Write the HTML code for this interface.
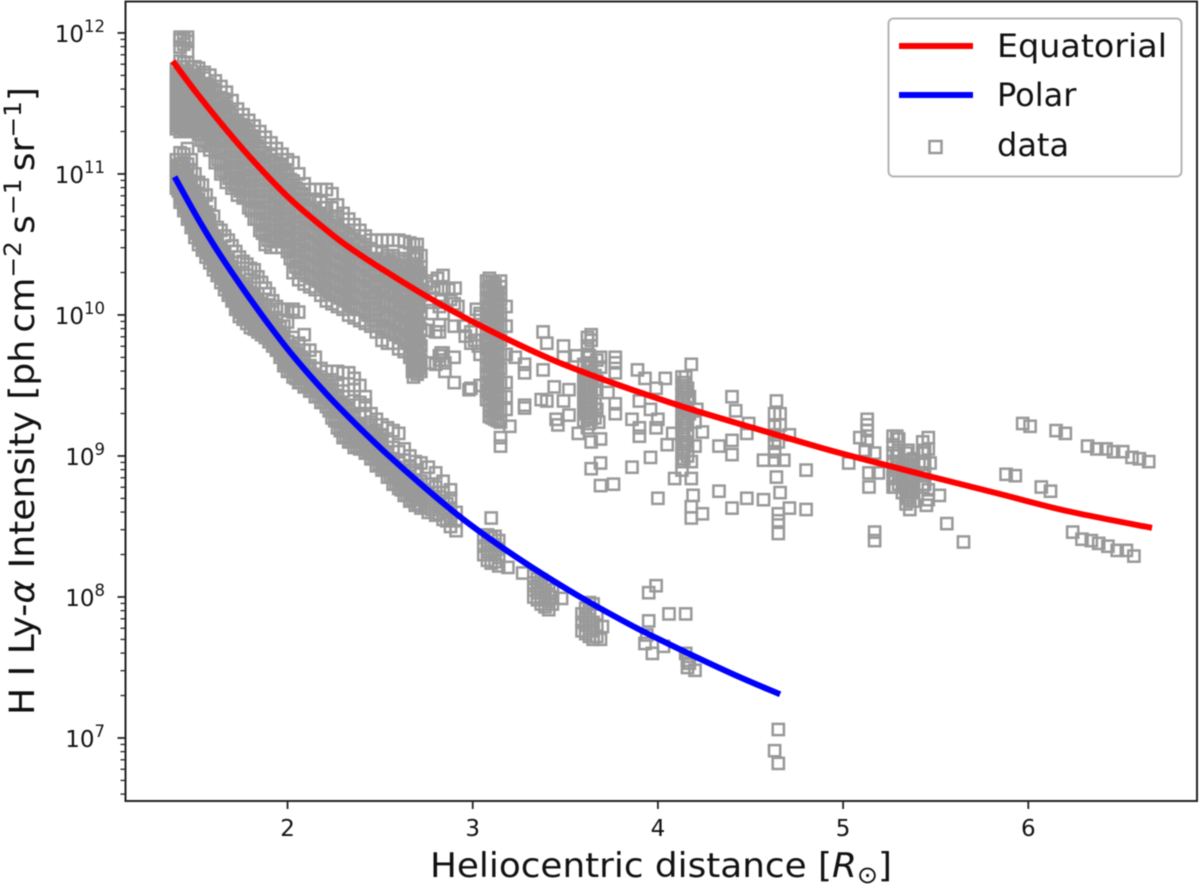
<!DOCTYPE html>
<html lang="en">
<head>
<meta charset="utf-8">
<title>H I Ly-alpha intensity versus heliocentric distance</title>
<style>
html,body{margin:0;padding:0;background:#fff;width:1200px;height:884px;overflow:hidden}
svg{display:block;font-family:"DejaVu Sans","Liberation Sans",sans-serif;filter:blur(0.4px)}
</style>
</head>
<body>
<svg id="chart" xmlns="http://www.w3.org/2000/svg" width="1200" height="884" viewBox="0 0 1200 884">
<rect x="125.5" y="1.5" width="1071.5" height="799.5" fill="#fff"/>
<g id="points"></g>
<path id="equatorial-line" fill="none" stroke="#ff0000" stroke-width="6"/>
<path id="polar-line" fill="none" stroke="#0000ff" stroke-width="6"/>
<g id="ticks"></g>
<rect x="125.5" y="1.5" width="1071.5" height="799.5" fill="none" stroke="#222" stroke-width="2"/>
<text x="661" y="877" text-anchor="middle" font-size="34" fill="#111" textLength="462" lengthAdjust="spacingAndGlyphs">Heliocentric distance [<tspan font-style="italic">R</tspan><tspan dy="6" font-size="24">⊙</tspan><tspan dy="-6">]</tspan></text>
<text transform="translate(34,401) rotate(-90)" text-anchor="middle" font-size="35" fill="#111" textLength="628" lengthAdjust="spacingAndGlyphs">H I Ly-<tspan font-style="italic">α</tspan> Intensity [ph&#8201;cm<tspan dy="-13" font-size="24">−2</tspan><tspan dy="13">&#8201;s</tspan><tspan dy="-13" font-size="24">−1</tspan><tspan dy="13">&#8201;sr</tspan><tspan dy="-13" font-size="24">−1</tspan><tspan dy="13">]</tspan></text>
<g>
<rect x="888.5" y="18.5" width="293" height="158" rx="5" fill="#fff" stroke="#b4b4b4" stroke-width="2"/>
<line x1="899" y1="46" x2="973" y2="46" stroke="#ff0000" stroke-width="6"/>
<text x="997" y="57" font-size="32" fill="#111" textLength="170" lengthAdjust="spacingAndGlyphs">Equatorial</text>
<line x1="899" y1="95" x2="973" y2="95" stroke="#0000ff" stroke-width="6"/>
<text x="997" y="106" font-size="32" fill="#111">Polar</text>
<rect x="929.5" y="141" width="12" height="12" fill="none" stroke="#999" stroke-width="2.5"/>
<text x="997" y="156" font-size="32" fill="#111">data</text>
</g>
</svg>
<script>
const xTickValues = [2, 3, 4, 5, 6];
const yTickExponents = [7, 8, 9, 10, 11, 12];
const minorMultipliers = [2, 3, 4, 5, 6, 7, 8, 9];

const equatorialDistance = [1.38, 1.50, 1.64, 1.81, 2.0, 2.175, 2.354, 2.715, 3.077, 3.434, 3.795, 4.157, 4.513, 4.875, 5.13, 5.485, 5.847, 6.209, 6.668];
const equatorialLogI = [11.80, 11.59, 11.36, 11.10, 10.84, 10.64, 10.46, 10.16, 9.90, 9.68, 9.50, 9.34, 9.20, 9.06, 8.97, 8.85, 8.73, 8.61, 8.49];
const polarDistance = [1.39, 1.50, 1.60, 1.70, 1.80, 1.90, 2.03, 2.21, 2.35, 2.54, 2.72, 2.93, 3.16, 3.38, 3.62, 3.87, 4.10, 4.41, 4.66];
const polarLogI = [10.98, 10.72, 10.50, 10.30, 10.11, 9.93, 9.71, 9.44, 9.25, 9.01, 8.80, 8.57, 8.35, 8.16, 7.97, 7.79, 7.64, 7.45, 7.31];

const polarBandDistance = [1.40,1.42,1.44,1.46,1.48,1.50,1.52,1.54,1.56,1.58,1.60,1.62,1.64,1.66,1.68,1.70,1.72,1.74,1.76,1.78,1.80,1.82,1.84,1.86,1.88,1.90,1.92,1.94,1.96,1.98,2.00,2.03,2.06,2.09,2.12,2.15,2.18,2.21,2.24,2.27,2.30,2.33,2.36,2.39,2.42,2.45,2.48,2.51,2.54,2.57,2.60,2.63,2.66,2.69,2.72,2.76,2.80,2.84,2.88,2.91];
const polarBandLogI = [
[10.90,10.95,11.00,11.05,11.10],
[10.80,10.85,10.92,10.97,11.03,11.10,11.15],
[10.74,10.79,10.85,10.90,10.96,11.02,11.08,11.14],
[10.68,10.74,10.80,10.86,10.92,11.00,11.07,11.18],
[10.62,10.68,10.73,10.80,10.86,10.93,11.03,11.10],
[10.55,10.60,10.66,10.72,10.78,10.84,10.92,11.00],
[10.50,10.56,10.62,10.68,10.75,10.82,10.94],
[10.46,10.52,10.58,10.64,10.70,10.76,10.85,10.92],
[10.41,10.47,10.53,10.60,10.66,10.73,10.85],
[10.37,10.43,10.49,10.55,10.61,10.67,10.79],
[10.32,10.38,10.44,10.50,10.56,10.70],
[10.28,10.34,10.40,10.46,10.52,10.62],
[10.23,10.29,10.35,10.41,10.48,10.60],
[10.18,10.24,10.30,10.36,10.43,10.56],
[10.14,10.20,10.26,10.32,10.38,10.53],
[10.10,10.16,10.22,10.28,10.34,10.49],
[10.04,10.10,10.16,10.22,10.30,10.45],
[9.99,10.05,10.11,10.17,10.24,10.41],
[9.97,10.03,10.09,10.15,10.22,10.38],
[9.94,10.00,10.06,10.12,10.20,10.36],
[9.91,9.97,10.03,10.09,10.16,10.33],
[9.90,9.95,10.00,10.06,10.13,10.22,10.32],
[9.88,9.93,9.98,10.04,10.10,10.27],
[9.86,9.91,9.96,10.02,10.08,10.23],
[9.84,9.89,9.94,10.00,10.06,10.19],
[9.81,9.86,9.92,9.98,10.04,10.15],
[9.78,9.84,9.90,9.96,10.10],
[9.75,9.81,9.87,9.93,10.06],
[9.70,9.77,9.84,9.91,10.04],
[9.64,9.71,9.78,9.85,9.92,10.04],
[9.60,9.67,9.74,9.81,9.95,10.04],
[9.56,9.62,9.69,9.76,9.84,10.02,10.04],
[9.52,9.58,9.64,9.71,9.80,10.02],
[9.49,9.55,9.61,9.68,9.75,9.86],
[9.46,9.52,9.58,9.64,9.75],
[9.42,9.48,9.54,9.62,9.70],
[9.38,9.44,9.50,9.56,9.62],
[9.35,9.41,9.47,9.53,9.60],
[9.27,9.33,9.40,9.47,9.54,9.60],
[9.20,9.27,9.34,9.42,9.50,9.60],
[9.13,9.20,9.28,9.36,9.46,9.59],
[9.10,9.17,9.24,9.32,9.42,9.59],
[9.06,9.12,9.19,9.27,9.36,9.47,9.55],
[9.05,9.10,9.16,9.23,9.30,9.38,9.50],
[9.02,9.08,9.14,9.20,9.28,9.36,9.42],
[8.98,9.04,9.10,9.17,9.24,9.30],
[8.93,8.99,9.05,9.11,9.18,9.26],
[8.90,8.96,9.02,9.08,9.15,9.22],
[8.85,8.91,8.97,9.03,9.10,9.20],
[8.80,8.86,8.92,8.98,9.06,9.18],
[8.77,8.83,8.89,8.95,9.03,9.16],
[8.72,8.78,8.84,8.90,8.97,9.05],
[8.68,8.74,8.80,8.86,8.93,9.00],
[8.65,8.71,8.77,8.83,8.90,8.96],
[8.63,8.69,8.75,8.82,8.95],
[8.60,8.66,8.73,8.80,8.92],
[8.58,8.64,8.70,8.78,8.88],
[8.55,8.61,8.68,8.74,8.82],
[8.50,8.56,8.63,8.70,8.76],
[8.47,8.54,8.60]
];

const polarFillDistance = [1.41,1.43,1.45,1.47,1.49,1.51,1.53,1.55,1.57,1.59,1.61,1.63,1.65,1.67,1.69,1.71,1.73,1.75,1.77,1.79,1.81,1.83,1.85,1.87,1.89,1.91,1.93,1.95,1.97,1.99,2.015,2.045,2.075,2.105,2.135,2.165,2.195,2.225,2.255,2.285,2.315,2.345,2.375,2.405,2.435,2.465,2.495,2.525,2.555,2.585,2.615,2.645,2.675,2.705,2.74,2.78,2.82,2.86];
const polarFillLogI = [
[10.88,10.94,11.00,11.06],
[10.82,10.88,10.94,11.00,11.06],
[10.76,10.82,10.88,10.94,11.00],
[10.70,10.76,10.82,10.88,10.94],
[10.64,10.70,10.76,10.82,10.88],
[10.58,10.64,10.70,10.76,10.82],
[10.53,10.59,10.65,10.71,10.77],
[10.48,10.54,10.60,10.66,10.72],
[10.44,10.50,10.56,10.62,10.68],
[10.40,10.46,10.52,10.58],
[10.35,10.41,10.47,10.53],
[10.30,10.36,10.42,10.48],
[10.26,10.32,10.38,10.44],
[10.21,10.27,10.33,10.39],
[10.16,10.22,10.28,10.34],
[10.11,10.17,10.23,10.29],
[10.06,10.12,10.18,10.24],
[10.02,10.08,10.14,10.20],
[10.00,10.06,10.12,10.18],
[9.97,10.03,10.09,10.15],
[9.95,10.01,10.07,10.13],
[9.92,9.98,10.04,10.10],
[9.90,9.96,10.02],
[9.88,9.94,10.00],
[9.86,9.92,9.98],
[9.83,9.89,9.95],
[9.80,9.86,9.92],
[9.76,9.82,9.88],
[9.72,9.78,9.84],
[9.66,9.72,9.78],
[9.60,9.66,9.72,9.78],
[9.55,9.61,9.67,9.73],
[9.52,9.58,9.64,9.70],
[9.50,9.56,9.62],
[9.46,9.52,9.58],
[9.42,9.48,9.54],
[9.38,9.44,9.50],
[9.32,9.38,9.44,9.50],
[9.25,9.31,9.37,9.43],
[9.18,9.24,9.31,9.38],
[9.14,9.20,9.27,9.34],
[9.10,9.16,9.22,9.29],
[9.07,9.13,9.19],
[9.06,9.12,9.18],
[9.03,9.09,9.15,9.22],
[8.98,9.04,9.10,9.16],
[8.94,9.00,9.06,9.12],
[8.90,8.96,9.02],
[8.85,8.91,8.97],
[8.80,8.86,8.92],
[8.76,8.82,8.88],
[8.72,8.78,8.84],
[8.69,8.75,8.81],
[8.66,8.72,8.78],
[8.64,8.70,8.76],
[8.62,8.68,8.74],
[8.59,8.65,8.71],
[8.54,8.60,8.66]
];

const polarClusterDistance = [3.06,3.08,3.10,3.12,3.14,3.19,3.27,3.33,3.35,3.37,3.39,3.41,3.43,3.48,3.59,3.61,3.63,3.65,3.67,3.69,3.70,3.93,3.94,3.95,3.97,3.99,4.03,4.06,4.15,4.16,4.17,4.20,4.63,4.65];
const polarClusterLogI = [
[8.30,8.36,8.42],
[8.26,8.32,8.38,8.44],
[8.24,8.30,8.36,8.42,8.56],
[8.25,8.31,8.37,8.43],
[8.22,8.28,8.34,8.40],
[8.21],
[8.17],
[8.00,8.05,8.10,8.15],
[7.98,8.03,8.08,8.13],
[7.95,8.00,8.06,8.12],
[7.93,7.99,8.04,8.10],
[7.91,7.97,8.02,8.08],
[7.95,8.00,8.05],
[7.99],
[7.76,7.82,7.88],
[7.74,7.80,7.86,7.92],
[7.72,7.78,7.84,7.90,7.96],
[7.70,7.76,7.82,7.95],
[7.72,7.80,7.88],
[7.70],
[7.79],
[7.67],
[7.73],
[7.83,8.03],
[7.60],
[8.08],
[7.65],
[7.88],
[7.60,7.88],
[7.50,7.55],
[7.53],
[7.48],
[6.91],
[6.82,7.06]
];

const equatorialBandDistance = [1.40,1.42,1.44,1.46,1.48,1.50,1.52,1.55,1.58,1.61,1.64,1.67,1.70,1.73,1.76,1.79,1.82,1.85,1.88,1.91,1.94,1.97,2.00,2.03,2.06,2.09,2.12,2.15,2.18,2.21,2.24,2.27,2.30,2.33,2.36,2.39,2.42,2.45,2.48,2.51,2.54,2.57,2.60,2.63,2.66,2.68,2.70,2.72];
const equatorialBandLogI = [
[11.32,11.38,11.44,11.50,11.56,11.62,11.68,11.74],
[11.30,11.36,11.42,11.48,11.54,11.60,11.66,11.72,11.80,11.90,11.95,11.97],
[11.31,11.37,11.43,11.49,11.55,11.61,11.67,11.73,11.79,11.92,11.96],
[11.31,11.40,11.46,11.52,11.58,11.64,11.70,11.79,11.87,11.94,11.97],
[11.30,11.34,11.42,11.48,11.55,11.62,11.68,11.73],
[11.33,11.38,11.45,11.52,11.58,11.64,11.70,11.76],
[11.28,11.34,11.40,11.46,11.52,11.58,11.64,11.70,11.75],
[11.20,11.28,11.35,11.42,11.48,11.55,11.62,11.68,11.72],
[11.17,11.24,11.31,11.38,11.44,11.50,11.56,11.62,11.70],
[11.08,11.16,11.24,11.31,11.38,11.45,11.52,11.59,11.66],
[11.00,11.07,11.15,11.23,11.30,11.37,11.44,11.50,11.62],
[10.94,11.02,11.10,11.18,11.26,11.33,11.40,11.48,11.58],
[10.90,10.97,11.05,11.12,11.20,11.27,11.34,11.42,11.52],
[10.85,10.93,11.00,11.08,11.16,11.23,11.31,11.38,11.46],
[10.83,10.90,10.97,11.05,11.12,11.20,11.28,11.35,11.42],
[10.76,10.84,10.92,10.99,11.06,11.14,11.22,11.30,11.38],
[10.68,10.76,10.84,10.91,10.99,11.07,11.15,11.24,11.34],
[10.60,10.68,10.76,10.84,10.92,11.00,11.08,11.18,11.30],
[10.50,10.57,10.65,10.73,10.81,10.89,10.97,11.05,11.15,11.26],
[10.48,10.56,10.64,10.72,10.80,10.88,10.96,11.05,11.13,11.22],
[10.48,10.55,10.63,10.71,10.78,10.86,10.94,11.02,11.10,11.18],
[10.48,10.54,10.61,10.69,10.77,10.85,10.93,11.00,11.07,11.14],
[10.45,10.52,10.60,10.68,10.76,10.84,10.92,11.00,11.10],
[10.30,10.38,10.46,10.54,10.62,10.70,10.78,10.86,10.95,11.08],
[10.25,10.33,10.41,10.49,10.57,10.65,10.73,10.81,10.89,11.00],
[10.22,10.30,10.38,10.46,10.54,10.62,10.70,10.78,10.85,10.93],
[10.20,10.28,10.36,10.44,10.52,10.60,10.68,10.76,10.89],
[10.18,10.26,10.34,10.42,10.50,10.58,10.66,10.74,10.82,10.89],
[10.14,10.22,10.30,10.38,10.46,10.54,10.62,10.70,10.80,10.89],
[10.10,10.18,10.26,10.34,10.42,10.50,10.58,10.66,10.76,10.89],
[10.08,10.16,10.24,10.32,10.40,10.48,10.56,10.66,10.76,10.86],
[10.06,10.14,10.22,10.30,10.38,10.46,10.54,10.62,10.70,10.78],
[10.04,10.12,10.20,10.28,10.36,10.44,10.52,10.60,10.72],
[10.00,10.08,10.16,10.24,10.32,10.40,10.48,10.56,10.68],
[9.98,10.06,10.14,10.22,10.30,10.38,10.46,10.54,10.64],
[9.96,10.04,10.12,10.20,10.28,10.36,10.44,10.52,10.60],
[9.94,10.02,10.10,10.18,10.26,10.34,10.42,10.50,10.56],
[9.92,10.00,10.08,10.16,10.24,10.32,10.40,10.47,10.53],
[9.88,9.96,10.04,10.13,10.22,10.30,10.38,10.45,10.53],
[9.82,9.90,10.00,10.10,10.20,10.28,10.36,10.44,10.53],
[9.80,9.88,9.98,10.08,10.16,10.26,10.34,10.42,10.53],
[9.80,9.88,9.96,10.06,10.14,10.22,10.32,10.42,10.53],
[9.76,9.84,9.92,10.02,10.10,10.20,10.30,10.40,10.53],
[9.74,9.82,9.90,10.00,10.08,10.18,10.28,10.38,10.52],
[9.70,9.80,9.90,10.00,10.10,10.20,10.30,10.40,10.51],
[9.56,9.62,9.68,9.74,9.80,9.86,9.92,9.98,10.04,10.10,10.16,10.24,10.32,10.42,10.50],
[9.58,9.64,9.70,9.76,9.82,9.88,9.94,10.00,10.06,10.12,10.18,10.26,10.34,10.44,10.50],
[9.60,9.68,9.78,9.90,10.02,10.14,10.26,10.34,10.42]
];

const equatorialFillDistance = [1.41,1.43,1.45,1.47,1.49,1.51,1.535,1.565,1.595,1.625,1.655,1.685,1.715,1.745,1.775,1.805,1.835,1.865,1.895,1.925,1.955,1.985,2.015,2.045,2.075,2.105,2.135,2.165,2.195,2.225,2.255,2.285,2.315,2.345,2.375,2.405,2.435,2.465,2.495,2.525,2.555,2.585,2.615,2.645,2.675,2.69,2.71];
const equatorialFillLogI = [
[11.34,11.41,11.47,11.53,11.59,11.65,11.71],
[11.33,11.40,11.46,11.52,11.58,11.64,11.70,11.76],
[11.35,11.41,11.47,11.53,11.59,11.65,11.71],
[11.33,11.39,11.45,11.51,11.57,11.63,11.69],
[11.36,11.41,11.48,11.55,11.61,11.67],
[11.31,11.37,11.43,11.49,11.55,11.61,11.67],
[11.24,11.31,11.38,11.44,11.50,11.56,11.63],
[11.22,11.30,11.37,11.44,11.51,11.58,11.64],
[11.20,11.27,11.34,11.41,11.47,11.53,11.60],
[11.10,11.18,11.26,11.33,11.40,11.47,11.54],
[11.02,11.10,11.18,11.25,11.32,11.40,11.47,11.53],
[10.97,11.04,11.12,11.20,11.28,11.35,11.43],
[10.92,11.00,11.08,11.16,11.23,11.30,11.37],
[10.88,10.96,11.03,11.10,11.18,11.26,11.33],
[10.83,10.90,10.97,11.03,11.10,11.18,11.25,11.32],
[10.74,10.81,10.88,10.95,11.03,11.11,11.19,11.27],
[10.68,10.74,10.80,10.88,10.96,11.04,11.12,11.20],
[10.58,10.64,10.72,10.80,10.88,10.96,11.04,11.12],
[10.53,10.60,10.68,10.76,10.84,10.92,11.00,11.09],
[10.52,10.60,10.68,10.76,10.84,10.92,11.00,11.08],
[10.58,10.66,10.74,10.82,10.90,10.98,11.06],
[10.56,10.64,10.72,10.80,10.88,10.96,11.03],
[10.40,10.48,10.56,10.64,10.72,10.80,10.88,10.96],
[10.34,10.42,10.50,10.58,10.66,10.74,10.82,10.90],
[10.30,10.38,10.46,10.54,10.62,10.70,10.78,10.86],
[10.28,10.36,10.44,10.52,10.60,10.68,10.76,10.82],
[10.26,10.34,10.42,10.50,10.58,10.66,10.74],
[10.24,10.32,10.40,10.48,10.56,10.64,10.72],
[10.20,10.28,10.36,10.44,10.52,10.60,10.68,10.76],
[10.16,10.24,10.32,10.40,10.48,10.56,10.64],
[10.14,10.22,10.30,10.38,10.46,10.54,10.62,10.70],
[10.12,10.20,10.28,10.36,10.44,10.52,10.60],
[10.10,10.18,10.26,10.34,10.42,10.50,10.58],
[10.06,10.14,10.22,10.30,10.38,10.46,10.54],
[10.04,10.12,10.20,10.28,10.36,10.44,10.50],
[10.04,10.12,10.20,10.28,10.36,10.44],
[10.00,10.08,10.16,10.24,10.32,10.40],
[9.96,10.04,10.12,10.20,10.28,10.36],
[9.92,10.00,10.08,10.16,10.24,10.32],
[9.90,10.00,10.10,10.20,10.30,10.40],
[9.88,9.98,10.08,10.18,10.28,10.38],
[9.86,9.96,10.06,10.16,10.26,10.36],
[9.84,9.94,10.04,10.14,10.24,10.34],
[9.80,9.90,10.00,10.10,10.20,10.30],
[9.60,9.66,9.72,9.78,9.84,9.90,9.96,10.02,10.08,10.14,10.20,10.28,10.36],
[9.60,9.70,9.80,9.90,10.00,10.10,10.20,10.30,10.40],
[9.62,9.72,9.82,9.94,10.06,10.18,10.30]
];

const solarColumnDistance = [2.78,2.80,2.82,2.83,2.84,2.85,2.90,2.905,2.92,2.96,2.99,3.04,3.09,3.12,3.15,3.18,3.20,3.23,3.28,3.37,3.38,3.40,3.44,3.45,3.46,3.49,3.52,3.56,3.57,3.61,3.62,3.64,3.67,3.68,3.69,3.73,3.76,3.77,3.86,3.89,3.90,3.93,3.96,3.99,4.00,4.04,4.05,4.08,4.09,4.13,4.15,4.17,4.18,4.19,4.20,4.21,4.24,4.33,4.40,4.42,4.48,4.49,4.57,4.63,4.64,4.65,4.66,4.68,4.71,4.80,5.03,5.09,5.12,5.13,5.14,5.17,5.19,5.27,5.28,5.29,5.32,5.35,5.36,5.37,5.43,5.45,5.46,5.47,5.52,5.56,5.65,5.88,5.93,5.97,6.01,6.07,6.12,6.15,6.20,6.24,6.29,6.32,6.34,6.37,6.38,6.42,6.43,6.46,6.48,6.51,6.53,6.56,6.57,6.60,6.65];
const solarColumnLogI = [
[10.24,10.01],
[9.65,9.88],
[9.68,9.88],
[9.73,10.19,10.10],
[10.01,9.73,10.28],
[9.60],
[9.52,9.70,9.92,10.08],
[10.19],
[10.06],
[9.85],
[9.48,9.80],
[9.50,9.72,10.01],
[9.28,9.32,9.36,9.40,9.44,9.48,9.52,9.56,9.60,9.64,9.68,9.72,9.76,9.80,9.84,9.88,9.92,9.96,10.00,10.04,10.08,10.12,10.16,10.20,10.26],
[9.26,9.30,9.34,9.38,9.42,9.46,9.50,9.54,9.58,9.62,9.66,9.70,9.74,9.78,9.82,9.86,9.90,9.94,9.98,10.02,10.06,10.10,10.14,10.18,10.22],
[9.07,9.13,9.24,9.33,9.42,9.52,9.62,9.72,9.82,9.92,10.01,10.11,10.15,10.20,10.24],
[9.33,9.42,9.52,9.72,10.06,9.92],
[9.21],
[9.70],
[9.34,9.36,9.59,9.65],
[9.40],
[9.61,9.88],
[9.39,9.80],
[9.49],
[9.26],
[9.22],
[9.39,9.70,9.78],
[9.29,9.47],
[9.71],
[9.16],
[9.30,9.38,9.46,9.54],
[9.20,9.28,9.36,9.44,9.52,9.60,9.66,9.72,9.78,9.84],
[8.91,9.10,9.26,9.34,9.42,9.50,9.58,9.66,9.82,9.86],
[9.33,9.53,9.68],
[9.24],
[8.79,8.95,9.12,9.63,9.70],
[9.45],
[8.80],
[9.30,9.37,9.59,9.66,9.70],
[8.92,9.26],
[9.61],
[9.14,9.20,9.39],
[9.55],
[8.99,9.33],
[9.20,9.48],
[8.70,9.26],
[9.55],
[9.08],
[9.16],
[8.84],
[8.90,8.96,9.02,9.08,9.14,9.20,9.26,9.32,9.38,9.44,9.50,9.56],
[9.10,9.22,9.34,9.46,9.56],
[9.30,9.42],
[8.56,8.64,8.84,8.96,9.65],
[8.72],
[9.07,9.24],
[9.33],
[8.59,9.17],
[8.75,9.07],
[8.63,9.01,9.11,9.42],
[9.32],
[8.70,9.16],
[9.23],
[8.69,8.97],
[8.97,9.03,9.09,9.15,9.21,9.30],
[8.85,9.39],
[8.45,8.54,8.59,9.10],
[8.74,9.22,9.30],
[8.97],
[8.63,9.15],
[8.62,8.90],
[8.95],
[9.13],
[9.04],
[9.11,9.18,9.22,9.26],
[8.78,8.88],
[8.40,8.46,9.02],
[8.88],
[8.78,8.84,8.90,8.96,9.02,9.08,9.14],
[8.78,8.86],
[8.92,9.00,9.14],
[8.74,8.80,8.86,8.92],
[8.70,8.78,8.86,8.94,9.04],
[8.62,8.68,8.74,8.82,8.90,8.97],
[8.75,8.84,8.93],
[8.78,8.86,8.94,9.02,9.10],
[8.65],
[8.69,8.76,9.05,9.13],
[8.95],
[8.72],
[8.52],
[8.39],
[8.87],
[8.86],
[9.23],
[9.21],
[8.78],
[8.75],
[9.18],
[9.16],
[8.46],
[8.41],
[9.07],
[8.40],
[9.05],
[8.38],
[9.05],
[8.36],
[9.03],
[8.33],
[9.03],
[8.33],
[8.99],
[8.29],
[8.98],
[8.96]
];

const columnFillDistance = [2.75,2.77,2.79,2.81,2.82,2.85,2.87,2.88,2.95,2.98,2.99,3.01,3.02,3.03,3.04,3.075,3.105,3.135,3.60,3.63,3.66,4.14,4.16,5.30,5.34,5.38,5.44];
const columnFillLogI = [
[9.89,10.22],
[9.66,10.11],
[10.20],
[10.26],
[9.71,9.93,10.06],
[9.66],
[10.18],
[10.11],
[9.92],
[9.47],
[9.88],
[9.82],
[10.04],
[9.78],
[9.99],
[9.40,9.46,9.52,9.58,9.64,9.70,9.76,9.82,9.88,9.94,10.00,10.06,10.12,10.18,10.24],
[9.27,9.33,9.39,9.45,9.51,9.57,9.63,9.69,9.75,9.81,9.87,9.93,9.99,10.05,10.11,10.17,10.23],
[9.25,9.31,9.37,9.43,9.49,9.55,9.61,9.67,9.73,9.79,9.85,9.91,9.97,10.03,10.09,10.15],
[9.25,9.33,9.41,9.49,9.57,9.65],
[9.23,9.31,9.39,9.47,9.55,9.63,9.71],
[9.27,9.37,9.47,9.57],
[8.98,9.04,9.10,9.16,9.22,9.28,9.34,9.40,9.46,9.52],
[9.00,9.08,9.16,9.24,9.32,9.40,9.48],
[8.80,8.88,8.96,9.04,9.12],
[8.66,8.72,8.78,8.84,8.90,8.96,9.02],
[8.68,8.74,8.80,8.86,8.92,8.98],
[8.80,8.88,8.96,9.04]
];

const xMin = 1.125, xMax = 6.911, yMin = 6.553, yMax = 12.223;
const plotLeft = 125.5, plotRight = 1197, plotTop = 1.5, plotBottom = 801;
const NS = 'http://www.w3.org/2000/svg';

function xScale(d) {
  return plotLeft + (d - xMin) / (xMax - xMin) * (plotRight - plotLeft);
}
function yScale(logI) {
  return plotTop + (yMax - logI) / (yMax - yMin) * (plotBottom - plotTop);
}
function curvePath(xs, ys) {
  const px = xs.map(xScale);
  const py = ys.map(yScale);
  let d = 'M' + px[0].toFixed(1) + ' ' + py[0].toFixed(1);
  for (let i = 0; i < px.length - 1; i++) {
    const a = Math.max(i - 1, 0), b = Math.min(i + 2, px.length - 1);
    const c1x = px[i] + (px[i + 1] - px[a]) / 6, c1y = py[i] + (py[i + 1] - py[a]) / 6;
    const c2x = px[i + 1] - (px[b] - px[i]) / 6, c2y = py[i + 1] - (py[b] - py[i]) / 6;
    d += 'C' + c1x.toFixed(1) + ' ' + c1y.toFixed(1) + ' ' + c2x.toFixed(1) + ' ' + c2y.toFixed(1) + ' ' + px[i + 1].toFixed(1) + ' ' + py[i + 1].toFixed(1);
  }
  return d;
}

const pointsGroup = document.getElementById('points');
function drawColumns(distances, logLists) {
  distances.forEach(function (d, i) {
    logLists[i].forEach(function (v) {
      const r = document.createElementNS(NS, 'rect');
      r.setAttribute('x', (xScale(d) - 5.6).toFixed(1));
      r.setAttribute('y', (yScale(v) - 5.6).toFixed(1));
      r.setAttribute('width', 11.2);
      r.setAttribute('height', 11.2);
      r.setAttribute('fill', 'none');
      r.setAttribute('stroke', '#999');
      r.setAttribute('stroke-width', 2.5);
      
      
      pointsGroup.appendChild(r);
    });
  });
}
drawColumns(polarBandDistance, polarBandLogI);
drawColumns(polarFillDistance, polarFillLogI);
drawColumns(polarClusterDistance, polarClusterLogI);
drawColumns(equatorialBandDistance, equatorialBandLogI);
drawColumns(equatorialFillDistance, equatorialFillLogI);
drawColumns(solarColumnDistance, solarColumnLogI);
drawColumns(columnFillDistance, columnFillLogI);

document.getElementById('equatorial-line').setAttribute('d', curvePath(equatorialDistance, equatorialLogI));
document.getElementById('polar-line').setAttribute('d', curvePath(polarDistance, polarLogI));

const ticksGroup = document.getElementById('ticks');
function addLine(x1, y1, x2, y2, w, name) {
  const l = document.createElementNS(NS, 'line');
  l.setAttribute('x1', x1);
  l.setAttribute('y1', y1);
  l.setAttribute('x2', x2);
  l.setAttribute('y2', y2);
  l.setAttribute('stroke', '#222');
  l.setAttribute('stroke-width', w);
  
  
  ticksGroup.appendChild(l);
}
xTickValues.forEach(function (v) {
  const x = xScale(v);
  addLine(x, plotBottom, x, plotBottom + 8, 1.8, 'x-tick');
  const t = document.createElementNS(NS, 'text');
  t.setAttribute('x', x);
  t.setAttribute('y', 836);
  t.setAttribute('text-anchor', 'middle');
  t.setAttribute('font-size', 23);
  t.setAttribute('fill', '#111');
  
  
  t.textContent = v;
  ticksGroup.appendChild(t);
});
yTickExponents.forEach(function (e) {
  const y = yScale(e);
  addLine(plotLeft - 8, y, plotLeft, y, 1.8, 'y-major-tick');
  const t = document.createElementNS(NS, 'text');
  t.setAttribute('x', 105);
  t.setAttribute('y', y + 9);
  t.setAttribute('text-anchor', 'end');
  t.setAttribute('font-size', 23);
  t.setAttribute('fill', '#111');
  
  
  const base = document.createElementNS(NS, 'tspan');
  base.textContent = '10';
  const sup = document.createElementNS(NS, 'tspan');
  sup.setAttribute('dy', -10);
  sup.setAttribute('font-size', 16.5);
  sup.textContent = e;
  t.appendChild(base);
  t.appendChild(sup);
  ticksGroup.appendChild(t);
});
[6].concat(yTickExponents).forEach(function (e) {
  minorMultipliers.forEach(function (m) {
    const lv = e + Math.log10(m);
    if (lv > yMin && lv < yMax) {
      const y = yScale(lv);
      addLine(plotLeft - 5, y, plotLeft, y, 1.3, 'y-minor-tick');
    }
  });
});
</script>
</body>
</html>
